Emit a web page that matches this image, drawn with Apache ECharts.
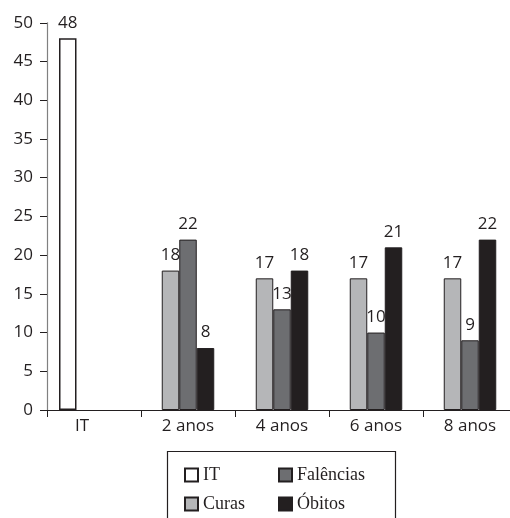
<!DOCTYPE html>
<html>
<head>
<meta charset="utf-8">
<script src="https://cdn.jsdelivr.net/npm/echarts@6/dist/echarts.min.js"></script>
<style>html,body{margin:0;padding:0;background:#fff}#c{width:510px;height:518px}</style>
</head>
<body>
<div id="c"></div>
<script>
var categories = ['IT', '2 anos', '4 anos', '6 anos', '8 anos'];
var itValues = [48, '-', '-', '-', '-'];
var curas = ['-', 18, 17, 17, 17];
var falencias = ['-', 22, 13, 10, 9];
var obitos = ['-', 8, 18, 21, 22];
var yTicks = [0, 5, 10, 15, 20, 25, 30, 35, 40, 45, 50];

var ink = '#231f20';
var sans = 'Open Sans';
var labelCfg = {show: true, position: 'top', distance: 7, fontSize: 17, color: ink, fontFamily: sans};
var chart = echarts.init(document.getElementById('c'), null, {renderer: 'canvas'});
chart.setOption({
  animation: false,
  backgroundColor: '#fff',
  grid: {left: 47, width: 470, top: 22.75, bottom: 108, containLabel: false, outerBoundsMode: 'none'},
  xAxis: [{
    type: 'category', data: categories, gridIndex: 0,
    axisLine: {lineStyle: {color: ink, width: 1.2}},
    axisTick: {show: true, length: 7, lineStyle: {color: ink}, alignWithLabel: false},
    axisLabel: {
      margin: 8, fontSize: 17, color: ink, fontFamily: sans,
      formatter: function (v) { return v === 'IT' ? '{it|IT}' : v; },
      rich: {it: {fontSize: 17, color: ink, fontFamily: sans, padding: [0, 24, 0, 0]}}
    }
  }, {
    type: 'category', data: categories, gridIndex: 0, show: false
  }],
  yAxis: {
    type: 'value', min: yTicks[0], max: yTicks[yTicks.length - 1], interval: 5,
    splitLine: {show: false},
    axisLine: {show: true, lineStyle: {color: '#808080', width: 1.2}},
    axisTick: {show: true, length: 7, lineStyle: {color: ink}},
    axisLabel: {margin: 14, fontSize: 17, color: ink, fontFamily: sans}
  },
  legend: [{
    orient: 'vertical', left: 184, top: 466, padding: 0, itemGap: 11,
    itemWidth: 13, itemHeight: 13, icon: 'rect',
    data: ['IT', 'Curas'],
    textStyle: {fontFamily: 'Liberation Serif', fontSize: 18, color: ink, lineHeight: 18}
  }, {
    orient: 'vertical', left: 278, top: 466, padding: 0, itemGap: 11,
    itemWidth: 13, itemHeight: 13, icon: 'rect',
    data: ['Falências', 'Óbitos'],
    textStyle: {fontFamily: 'Liberation Serif', fontSize: 18, color: ink, lineHeight: 18}
  }],
  graphic: [{
    type: 'rect', shape: {x: 167.5, y: 451.5, width: 228, height: 80},
    style: {fill: 'none', stroke: ink, lineWidth: 1.2}, silent: true
  }],
  series: [
    {name: 'IT', type: 'bar', xAxisIndex: 1, data: itValues, barWidth: 17.5, barGap: '200%',
      itemStyle: {color: '#ffffff', borderColor: ink, borderWidth: 1.5}, label: labelCfg},
    {name: '_dummy', type: 'bar', xAxisIndex: 1, data: ['-', '-', '-', '-', '-'], barWidth: 17.5, barGap: '200%'},
    {name: 'Curas', type: 'bar', xAxisIndex: 0, data: curas, barWidth: 17.5, barGap: 0,
      itemStyle: {color: '#b5b6b8', borderColor: ink, borderWidth: 1}, label: labelCfg},
    {name: 'Falências', type: 'bar', xAxisIndex: 0, data: falencias, barWidth: 17.5, barGap: 0,
      itemStyle: {color: '#6d6e71', borderColor: ink, borderWidth: 1}, label: labelCfg},
    {name: 'Óbitos', type: 'bar', xAxisIndex: 0, data: obitos, barWidth: 17.5, barGap: 0,
      itemStyle: {color: ink, borderColor: ink, borderWidth: 1}, label: labelCfg}
  ]
});
</script>
</body>
</html>
